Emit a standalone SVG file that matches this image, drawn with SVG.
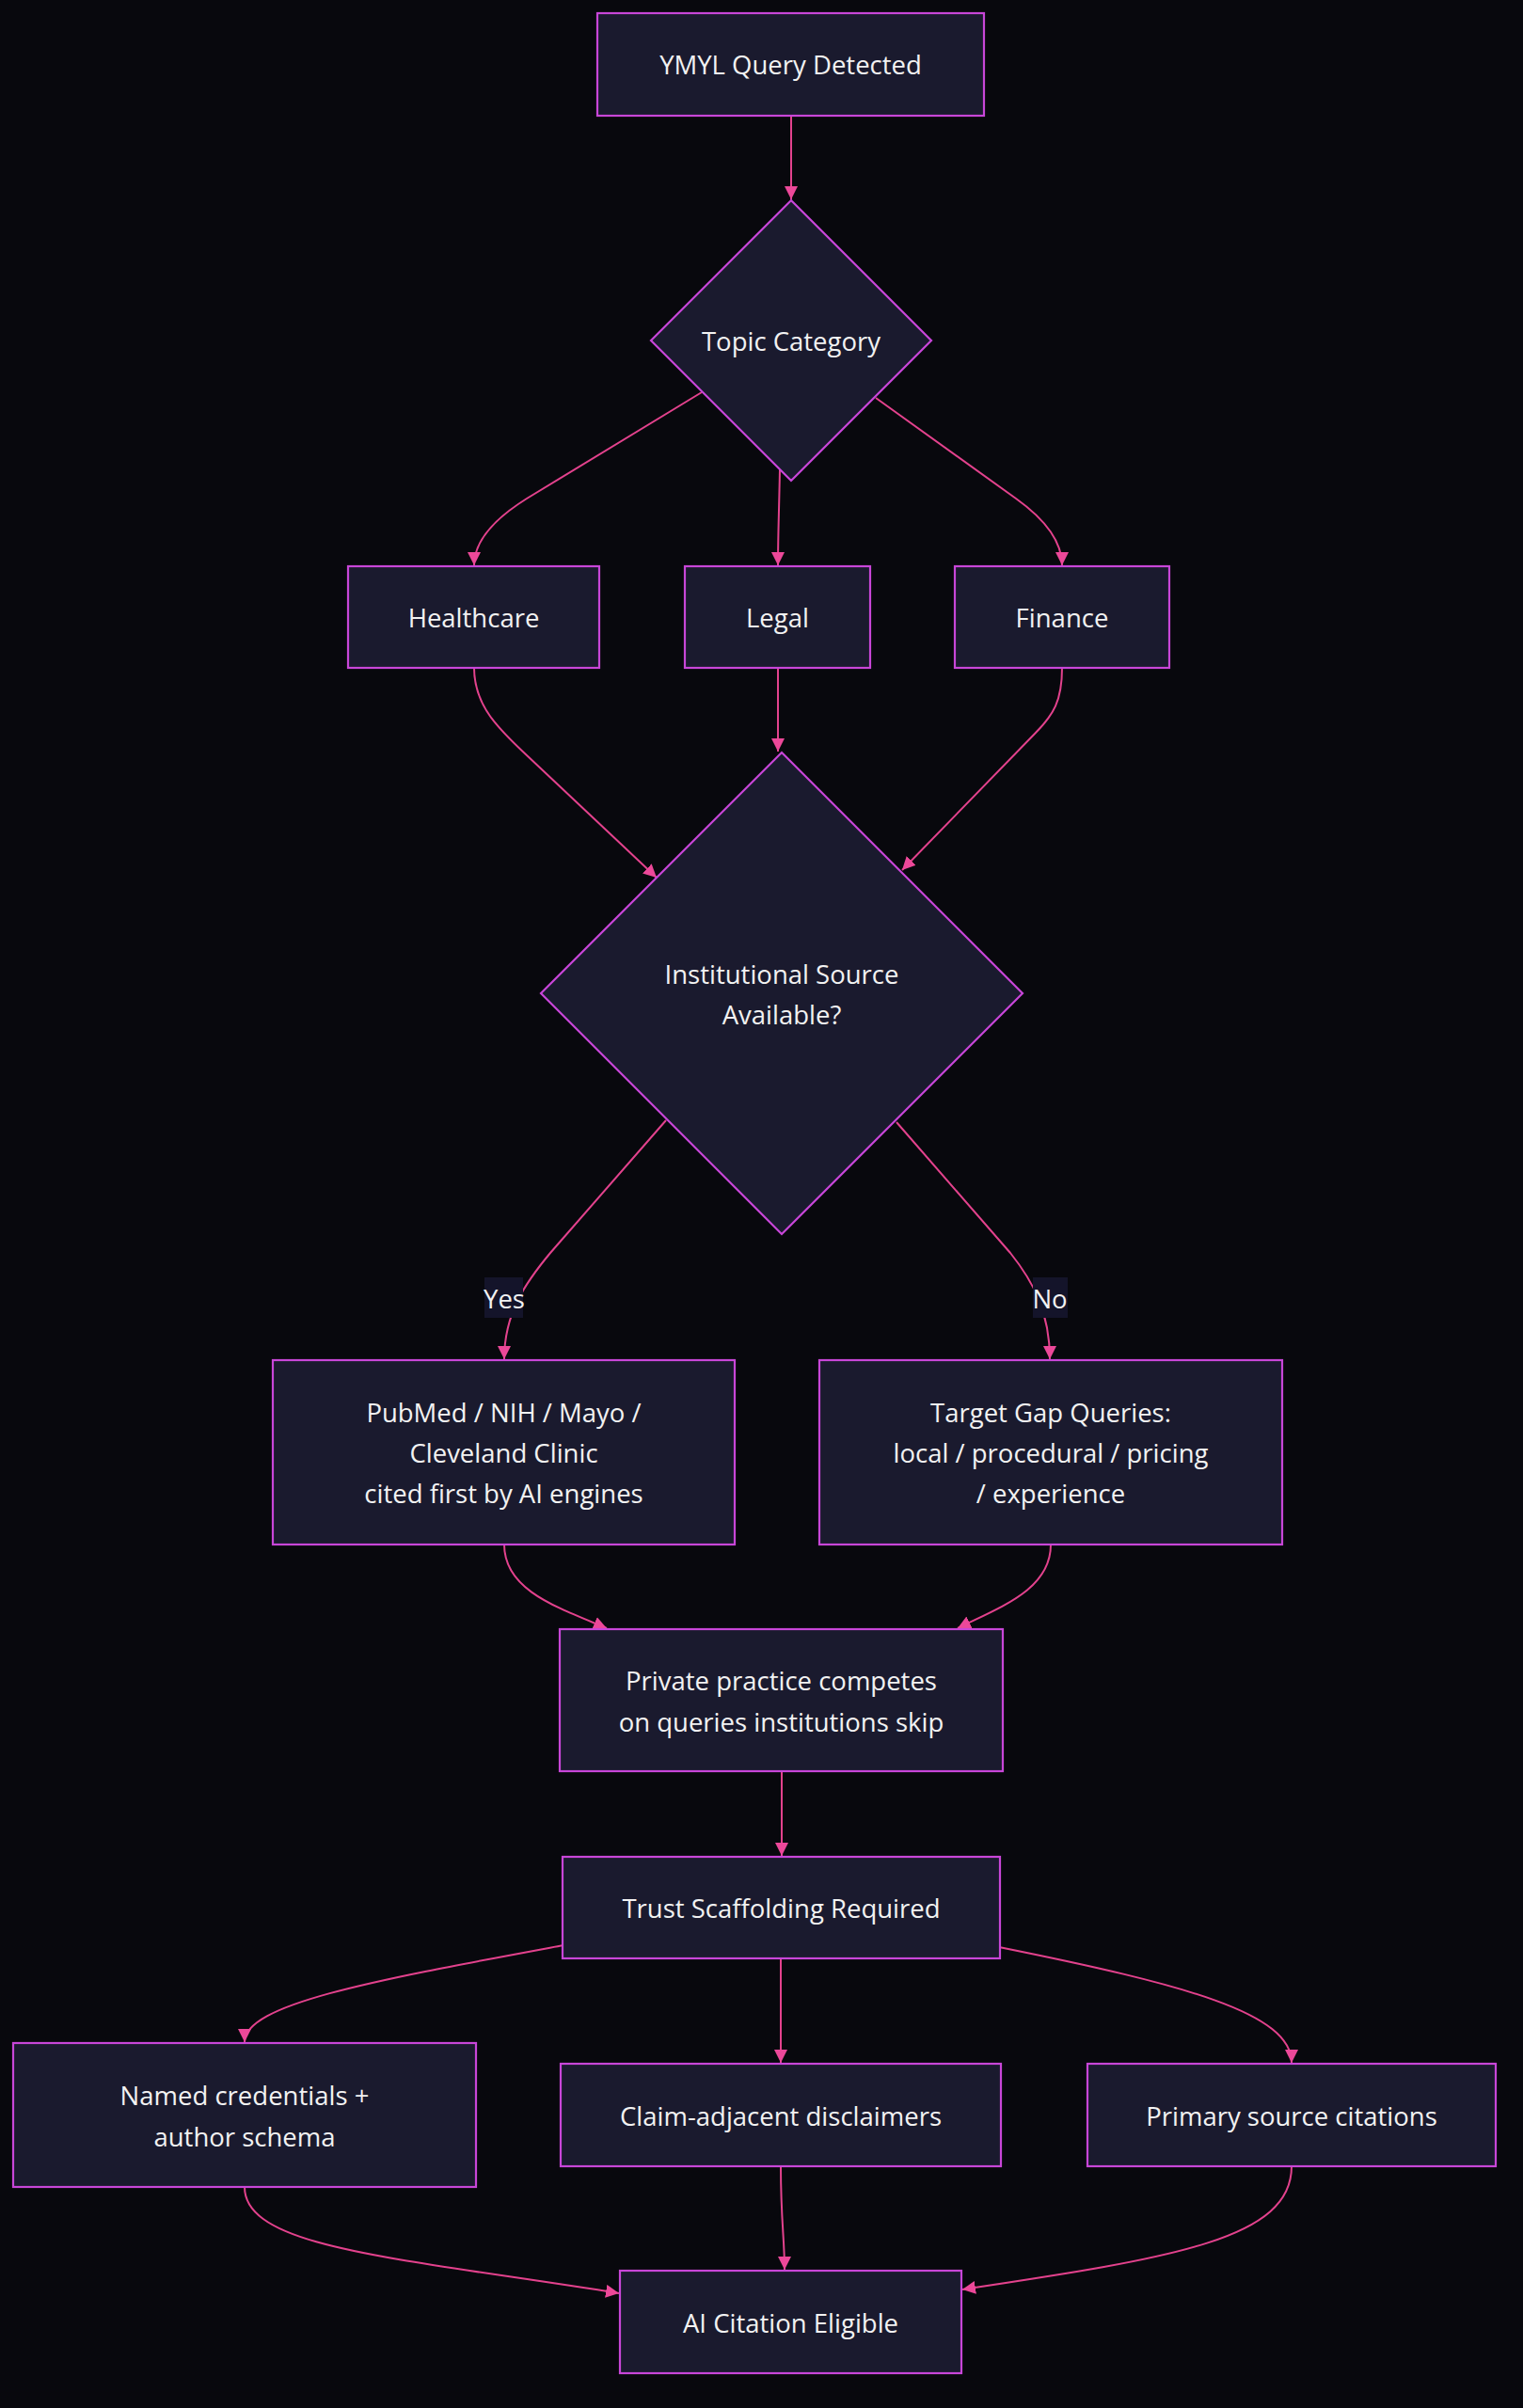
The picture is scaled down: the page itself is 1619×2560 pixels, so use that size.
<svg xmlns="http://www.w3.org/2000/svg" width="1619" height="2560" viewBox="0 0 1619 2560">
<style>
.bg{fill:#08080d}
.node rect,.node polygon{fill:#1a1a2e;stroke:#c846d8;stroke-width:2.2}
.node text,.lbl text{font-family:"Open Sans","Noto Sans","DejaVu Sans",sans-serif;font-size:27.5px;fill:#f2f2f2;text-anchor:middle;dominant-baseline:central}
.edges path{fill:none;stroke:#e3428d;stroke-width:2;marker-end:url(#arr)}
.lbl rect{fill:#14142a}
</style>
<defs>
<marker id="arr" viewBox="0 0 10 10" refX="10" refY="5" markerUnits="userSpaceOnUse" markerWidth="14" markerHeight="14" orient="auto">
<path d="M0,0 L10,5 L0,10 z" fill="#ec4899"/>
</marker>
</defs>
<rect class="bg" x="0" y="0" width="1619" height="2560"/>
<g id="connectors" class="edges">
<path d="M841,123 L841,212"/>
<path d="M746,417 L560,530 Q504,565 504,601"/>
<path d="M829,499 C828,550 827,570 827,601"/>
<path d="M931,423 L1080,530 Q1129,565 1129,601"/>
<path d="M504,710 C504,750 530,775 560,803 L698,933"/>
<path d="M827,710 L827,799"/>
<path d="M1129,710 C1129,745 1120,760 1100,780 L959,925"/>
<path d="M708,1191 L585,1332 C560,1362 536,1395 536,1445"/>
<path d="M953,1193 L1074,1332 C1098,1362 1116,1395 1116,1445"/>
<path d="M536,1642 C536,1690 590,1708 645,1731"/>
<path d="M1117,1642 C1117,1690 1064,1708 1018,1731"/>
<path d="M831,1883 L831,1973"/>
<path d="M599,2068 C400,2105 260,2130 260,2171"/>
<path d="M830,2082 L830,2193"/>
<path d="M1062,2070 C1260,2110 1373,2140 1373,2193"/>
<path d="M260,2325 C260,2390 420,2400 658,2438"/>
<path d="M830,2303 C830,2360 834,2380 834,2413"/>
<path d="M1373,2303 C1373,2380 1250,2400 1023,2434"/>
</g>
<g id="label-yes" class="lbl"><rect x="515" y="1358" width="41" height="43"/><text x="536" y="1380">Yes</text></g>
<g id="label-no" class="lbl"><rect x="1098" y="1358" width="37" height="43"/><text x="1116" y="1380">No</text></g>
<g id="ymyl" class="node"><rect x="635" y="14" width="411" height="109"/><text x="840.5" y="68">YMYL Query Detected</text></g>
<g id="topic" class="node"><polygon points="841,213 990,362 841,511 692,362"/><text x="841" y="362">Topic Category</text></g>
<g id="healthcare" class="node"><rect x="370" y="602" width="267" height="108"/><text x="503.5" y="656">Healthcare</text></g>
<g id="legal" class="node"><rect x="728" y="602" width="197" height="108"/><text x="826.5" y="656">Legal</text></g>
<g id="finance" class="node"><rect x="1015" y="602" width="228" height="108"/><text x="1129" y="656">Finance</text></g>
<g id="institutional" class="node"><polygon points="831,800 1087,1056 831,1312 575,1056"/><text x="831" y="1035">Institutional Source</text><text x="831" y="1078">Available?</text></g>
<g id="pubmed" class="node"><rect x="290" y="1446" width="491" height="196"/><text x="535.5" y="1501">PubMed / NIH / Mayo /</text><text x="535.5" y="1544">Cleveland Clinic</text><text x="535.5" y="1587">cited first by AI engines</text></g>
<g id="gap" class="node"><rect x="871" y="1446" width="492" height="196"/><text x="1117" y="1501">Target Gap Queries:</text><text x="1117" y="1544">local / procedural / pricing</text><text x="1117" y="1587">/ experience</text></g>
<g id="private" class="node"><rect x="595" y="1732" width="471" height="151"/><text x="830.5" y="1786">Private practice competes</text><text x="830.5" y="1830">on queries institutions skip</text></g>
<g id="trust" class="node"><rect x="598" y="1974" width="465" height="108"/><text x="830.5" y="2028">Trust Scaffolding Required</text></g>
<g id="named" class="node"><rect x="14" y="2172" width="492" height="153"/><text x="260" y="2227">Named credentials +</text><text x="260" y="2271">author schema</text></g>
<g id="claim" class="node"><rect x="596" y="2194" width="468" height="109"/><text x="830" y="2249">Claim-adjacent disclaimers</text></g>
<g id="primary" class="node"><rect x="1156" y="2194" width="434" height="109"/><text x="1373" y="2249">Primary source citations</text></g>
<g id="eligible" class="node"><rect x="659" y="2414" width="363" height="109"/><text x="840.5" y="2469">AI Citation Eligible</text></g>
</svg>
